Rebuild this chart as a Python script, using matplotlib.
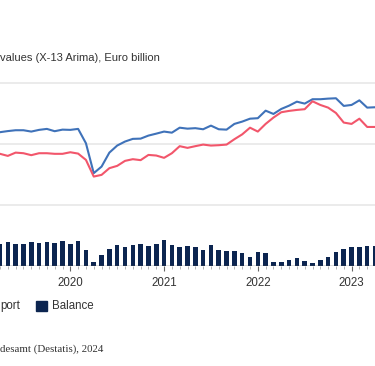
import matplotlib
matplotlib.use("Agg")
import matplotlib.pyplot as plt
from matplotlib.patches import Rectangle
import numpy as np

# monthly values, Apr 2019 .. Apr 2023 (Euro billion)
months = np.arange(-9, 40)  # months relative to Jan 2020

export = [109.8, 110.7, 111.4, 111.4, 110.3, 111.7, 112.5, 110.6, 111.9,
          111.7, 112.5, 100.7, 76.1, 81.5, 93.0, 98.8, 102.1, 104.3, 104.5,
          107.0, 108.6, 110.3, 109.4, 113.5, 112.7, 113.1, 112.2, 115.2,
          112.2, 111.9, 116.6, 118.5, 120.9, 121.3, 127.5, 124.8, 128.9,
          131.6, 134.9, 133.3, 136.9, 136.9, 137.4, 137.7, 131.4, 132.2,
          136.0, 130.0, 130.3]

imports = [92.0, 90.3, 93.0, 92.5, 90.9, 92.5, 92.5, 92.0, 92.0,
           93.3, 92.2, 87.0, 73.3, 74.7, 80.2, 82.1, 86.2, 87.6, 86.8,
           91.1, 90.6, 88.7, 92.5, 98.3, 96.9, 98.3, 99.6, 98.8,
           99.1, 99.6, 104.0, 108.0, 113.5, 110.3, 116.6, 121.8, 126.2,
           127.3, 128.1, 128.7, 135.2, 132.2, 130.0, 125.6, 117.7, 116.6,
           120.9, 114.1, 114.1]

balance = [18.0, 19.2, 18.1, 18.1, 19.2, 18.6, 19.2, 18.6, 20.0,
           18.1, 20.0, 13.1, 3.3, 8.5, 13.7, 16.7, 15.1, 16.7, 17.8,
           16.2, 17.8, 21.3, 16.7, 15.1, 16.2, 15.1, 13.1, 16.7,
           13.1, 12.3, 12.3, 10.2, 7.4, 11.0, 10.2, 3.3, 3.3,
           4.7, 6.1, 3.9, 2.0, 4.7, 7.4, 11.5, 13.7, 15.1,
           15.1, 16.2, 16.5]

years = ["2020", "2021", "2022", "2023"]

blue = "#3f72b9"
red = "#f2566b"
navy = "#0c2550"
txt = "#333333"

W, H = 375, 366
fig = plt.figure(figsize=(W / 100, H / 100), dpi=100)
plt.rcParams["font.family"] = ["Liberation Sans", "DejaVu Sans"]

# pixel geometry of the plot area (the view is a crop of a wider chart)
x0_px, px_per_month = 69.0, 7.917
y0_px, px_per_unit = 265.7, 1.216
ytop = 160
ax = fig.add_axes([0, 1 - y0_px / H, 1, ytop * px_per_unit / H])
ax.set_xlim(-x0_px / px_per_month, (W - x0_px) / px_per_month)
ax.set_ylim(0, ytop)

ax.bar(months, balance, width=0.58, color=navy, zorder=2)
ax.plot(months, export, color=blue, lw=1.5, zorder=3)
ax.plot(months, imports, color=red, lw=1.5, zorder=3)

for v in [50, 100, 150]:
    ax.axhline(v, color="#e6e6e6", lw=1.1, zorder=1)
ax.axhline(0, color="#555555", lw=1.0, zorder=4)

for s in ax.spines.values():
    s.set_visible(False)
ax.set_yticks([])
ax.set_xticks([0, 12, 24, 36])
ax.set_xticklabels(years)
ax.set_xticks(np.arange(-9, 40), minor=True)
ax.tick_params(axis="x", which="major", length=3.5, width=0.8, color="#666666",
               labelsize=8.3, labelcolor=txt, pad=4.5)
ax.tick_params(axis="x", which="minor", length=2.2, width=0.6, color="#aaaaaa")

# visible part of the subtitle
fig.text(0.5 / W, 1 - 58 / H, "values (X-13 Arima), Euro billion",
         ha="left", va="center", fontsize=8.0, color=txt)

# legend (only the tail of "Import" and "Balance" are in view)
fig.text(0.5 / W, 1 - 306 / H, "port", ha="left", va="center",
         fontsize=8.3, color=txt)
fig.add_artist(Rectangle((36 / W, 1 - 311 / H), 10.5 / W, 10.5 / H,
                         transform=fig.transFigure, color=navy))
fig.text(52 / W, 1 - 306 / H, "Balance", ha="left", va="center",
         fontsize=8.3, color=txt)

# visible part of the source line
fig.text(0.5 / W, 1 - 349 / H, "desamt (Destatis), 2024",
         ha="left", va="center", fontsize=7.8, color=txt,
         family="Liberation Serif")

fig.savefig("out.png", dpi=100)
